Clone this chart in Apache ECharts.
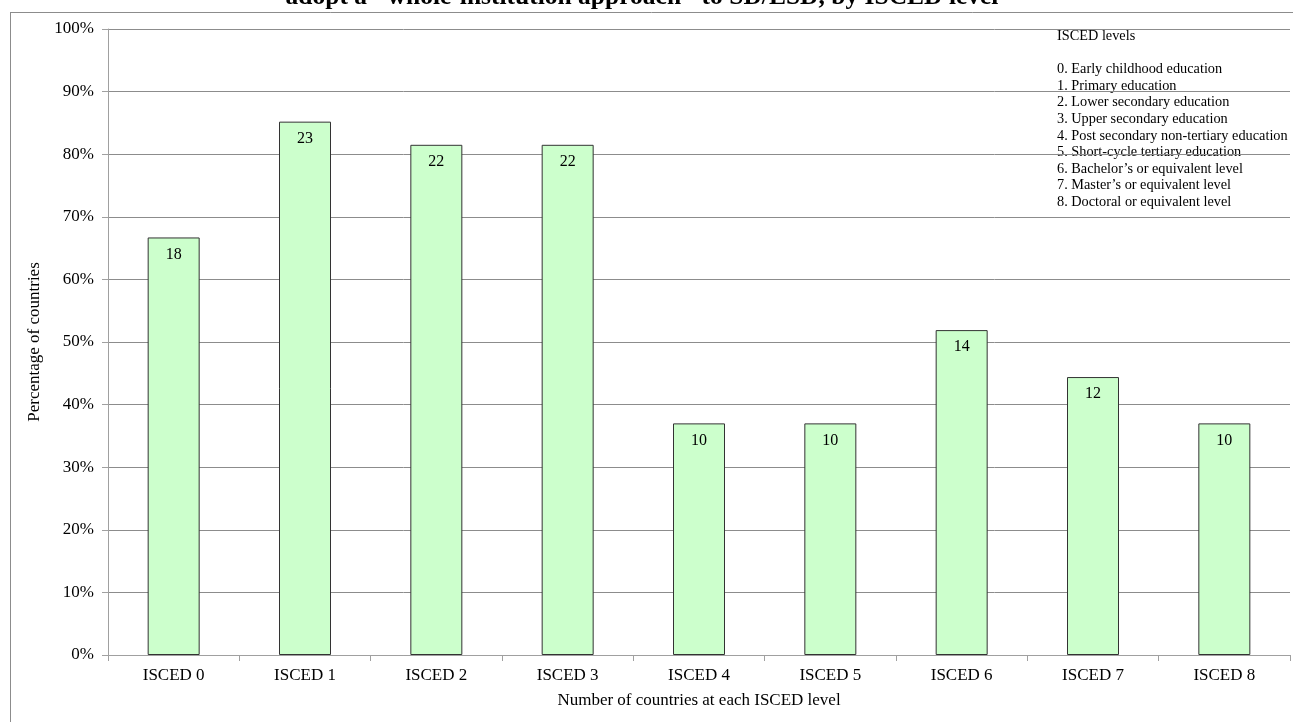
<!DOCTYPE html>
<html>
<head>
<meta charset="utf-8">
<script src="https://cdn.jsdelivr.net/npm/echarts@6/dist/echarts.min.js"></script>
<style>
html,body{margin:0;padding:0;background:#fff;}
#chart{width:1293px;height:722px;}
</style>
</head>
<body>
<div id="chart"></div>
<script>
const categories = ['ISCED 0','ISCED 1','ISCED 2','ISCED 3','ISCED 4','ISCED 5','ISCED 6','ISCED 7','ISCED 8'];
const percentValues = [66.7, 85.2, 81.5, 81.5, 37.0, 37.0, 51.9, 44.4, 37.0];
const countLabels = [18, 23, 22, 22, 10, 10, 14, 12, 10];
const yTicks = [0,10,20,30,40,50,60,70,80,90,100];
const titleText = 'adopt a "whole-institution approach" to SD/ESD, by ISCED level';
const legendLines = [
  'ISCED levels',
  '',
  '0. Early childhood education',
  '1. Primary education',
  '2. Lower secondary education',
  '3. Upper secondary education',
  '4. Post secondary non-tertiary education',
  '5. Short-cycle tertiary education',
  '6. Bachelor\u2019s or equivalent level',
  '7. Master\u2019s or equivalent level',
  '8. Doctoral or equivalent level'
];

const FONT = '"Liberation Serif", "Times New Roman", serif';
const chart = echarts.init(document.getElementById('chart'), null, {renderer:'canvas'});

chart.setOption({
  animation: false,
  backgroundColor: '#fff',
  grid: {left: 108, right: 3, top: 29, bottom: 67},
  xAxis: {
    type: 'category',
    data: categories,
    name: 'Number of countries at each ISCED level',
    nameLocation: 'middle',
    nameGap: 37,
    nameTextStyle: {fontFamily: FONT, fontSize: 17, color: '#000'},
    axisLine: {lineStyle: {color: '#a0a0a0', width: 1}},
    axisTick: {show: true, length: 6, lineStyle: {color: '#a0a0a0'}},
    axisLabel: {fontFamily: FONT, fontSize: 17, color: '#000', margin: 12}
  },
  yAxis: {
    type: 'value',
    min: 0, max: 100, interval: 10,
    name: 'Percentage of countries',
    nameLocation: 'middle',
    nameGap: 59,
    nameTextStyle: {fontFamily: FONT, fontSize: 17, color: '#000'},
    axisLine: {show: true, lineStyle: {color: '#a0a0a0', width: 1}},
    axisTick: {show: true, length: 6, lineStyle: {color: '#a0a0a0'}},
    axisLabel: {fontFamily: FONT, fontSize: 17, color: '#000', margin: 14,
      formatter: v => yTicks.includes(v) ? v + '%' : ''},
    splitLine: {show: true, lineStyle: {color: '#8c8c8c', width: 1}}
  },
  series: [{
    type: 'bar',
    data: percentValues,
    barWidth: 52,
    itemStyle: {color: '#ccffcc', borderColor: '#333', borderWidth: 1},
    label: {
      show: true, position: 'insideTop', distance: 9,
      fontFamily: FONT, fontSize: 16, color: '#000',
      formatter: p => String(countLabels[p.dataIndex])
    }
  }],
  graphic: [
    {type: 'line', shape: {x1: 10.5, y1: 12, x2: 10.5, y2: 722}, style: {stroke: '#8c8c8c', lineWidth: 1}, silent: true},
    {type: 'line', shape: {x1: 10, y1: 12.5, x2: 1293, y2: 12.5}, style: {stroke: '#8c8c8c', lineWidth: 1}, silent: true},
    {type: 'text', x: 642, y: -16, style: {text: titleText, font: 'bold 25.5px ' + FONT, fill: '#000', align: 'center'}, silent: true},
    {type: 'text', left: 1057, top: 28, style: {text: legendLines.join('\n'), font: '14.3px ' + FONT, fill: '#000', lineHeight: 16.6}, silent: true}
  ]
});
</script>
</body>
</html>
